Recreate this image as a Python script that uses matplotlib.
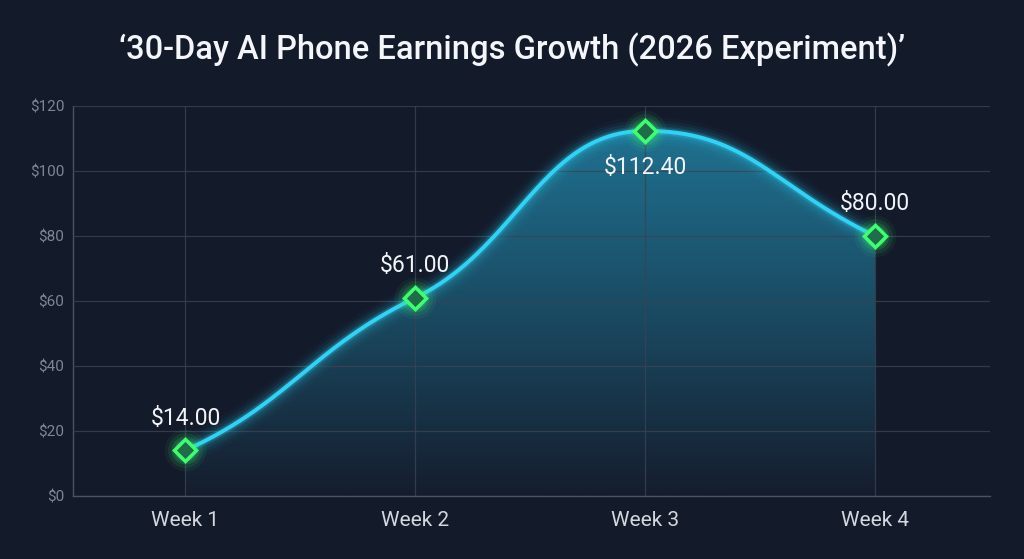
import numpy as np
import matplotlib.pyplot as plt
from matplotlib.patches import Polygon
from matplotlib.colors import LinearSegmentedColormap

weeks = ['Week 1', 'Week 2', 'Week 3', 'Week 4']
earnings = [14.00, 61.00, 112.40, 80.00]
labels = ['$14.00', '$61.00', '$112.40', '$80.00']
label_above = [True, True, False, True]
y_ticks = [0, 20, 40, 60, 80, 100, 120]

bg = '#131a2a'
line_col = '#2fd3f5'
marker_col = '#3dff6e'

plt.rcParams['font.family'] = ['Roboto', 'DejaVu Sans']

# pixel scale per unit so the curve shape is computed in screen space
PX_X = 230.0
PX_Y = 390.0 / 120.0


def smooth(x, y, arm=0.45, k=0.7, n=120):
    # bezier segments with long, flattened arms (gives the S-shaped look)
    px = np.asarray(x, float) * PX_X
    py = np.asarray(y, float) * PX_Y
    d = np.diff(py) / np.diff(px)
    m = np.zeros_like(py)
    for i in range(1, len(py) - 1):
        if d[i - 1] * d[i] > 0:
            m[i] = 2 / (1 / d[i - 1] + 1 / d[i])
    m[0] = (3 * d[0] - m[1]) / 2
    m[-1] = (3 * d[-1] - m[-2]) / 2
    m = m * k
    t = np.linspace(0, 1, n)[:, None]
    out = []
    for i in range(len(px) - 1):
        dx = px[i + 1] - px[i]
        p0 = np.array([px[i], py[i]])
        p3 = np.array([px[i + 1], py[i + 1]])
        c1 = p0 + arm * np.array([dx, m[i] * dx])
        c2 = p3 - arm * np.array([dx, m[i + 1] * dx])
        seg = ((1 - t)**3 * p0 + 3 * (1 - t)**2 * t * c1
               + 3 * (1 - t) * t**2 * c2 + t**3 * p3)
        out.append(seg if i == 0 else seg[1:])
    out = np.vstack(out)
    return out[:, 0] / PX_X, out[:, 1] / PX_Y


x = np.arange(1, len(weeks) + 1)
xs, ys = smooth(x, earnings)

fig = plt.figure(figsize=(10.24, 5.59), dpi=100, facecolor=bg)
ax = fig.add_axes([0.071, 0.113, 0.896, 0.697])
ax.set_facecolor(bg)
ax.set_xlim(0.51, 4.5)
ax.set_ylim(0, 120)

# gradient fill under curve
cmap = LinearSegmentedColormap.from_list('fill', ['#151d2d', '#1a4a62', '#1f7190'])
grad = np.linspace(0, 1, 256).reshape(-1, 1)
img = ax.imshow(grad, cmap=cmap, aspect='auto', origin='lower',
                extent=[xs[0], xs[-1], 0, max(ys)], zorder=1)
poly = Polygon(np.column_stack([np.r_[xs, xs[-1], xs[0]], np.r_[ys, 0, 0]]),
               closed=True, facecolor='none', edgecolor='none')
ax.add_patch(poly)
img.set_clip_path(poly)

ax.set_xticks(x)
ax.set_xticklabels(weeks)
ax.set_yticks(y_ticks)
ax.set_yticklabels(['$%d' % v for v in y_ticks])
ax.grid(True, color='#3a4354', linewidth=0.9, alpha=0.8, zorder=2)
ax.set_axisbelow(False)
for s in ['top', 'right']:
    ax.spines[s].set_visible(False)
for s in ['left', 'bottom']:
    ax.spines[s].set_color('#4a5263')
    ax.spines[s].set_linewidth(1.0)
ax.tick_params(axis='y', length=0, colors='#7d8696', labelsize=11, pad=6)
ax.tick_params(axis='x', length=0, colors='#d3d7de', labelsize=15, pad=11)

# glow line
for lw, a in [(20, 0.03), (15, 0.05), (11, 0.08), (7, 0.12), (5, 0.2)]:
    ax.plot(xs, ys, color=line_col, linewidth=lw, alpha=a, solid_capstyle='round', zorder=3)
ax.plot(xs, ys, color=line_col, linewidth=2.8, solid_capstyle='round', zorder=4)

# glowing markers
for ms, a in [(30, 0.06), (25, 0.09), (20, 0.13), (16, 0.2)]:
    ax.plot(x, earnings, 'o', markersize=ms, color=marker_col, alpha=a,
            markeredgewidth=0, zorder=5)
ax.plot(x, earnings, 'D', markersize=11, markerfacecolor='#1f6b4a',
        markeredgecolor=marker_col, markeredgewidth=2.5, zorder=6)

for xi, yi, lab, up in zip(x, earnings, labels, label_above):
    off = 15 if up else -18
    ax.annotate(lab, (xi, yi), xytext=(0, off), textcoords='offset points',
                ha='center', va='bottom' if up else 'top', color='#f2f4f7',
                fontsize=16.5, zorder=7)

fig.text(0.5, 0.91, '\u201830-Day AI Phone Earnings Growth (2026 Experiment)\u2019',
         ha='center', va='center', color='#f4f6fa', fontsize=23.5, fontweight='medium')

fig.savefig('out.png', dpi=100, facecolor=bg)
